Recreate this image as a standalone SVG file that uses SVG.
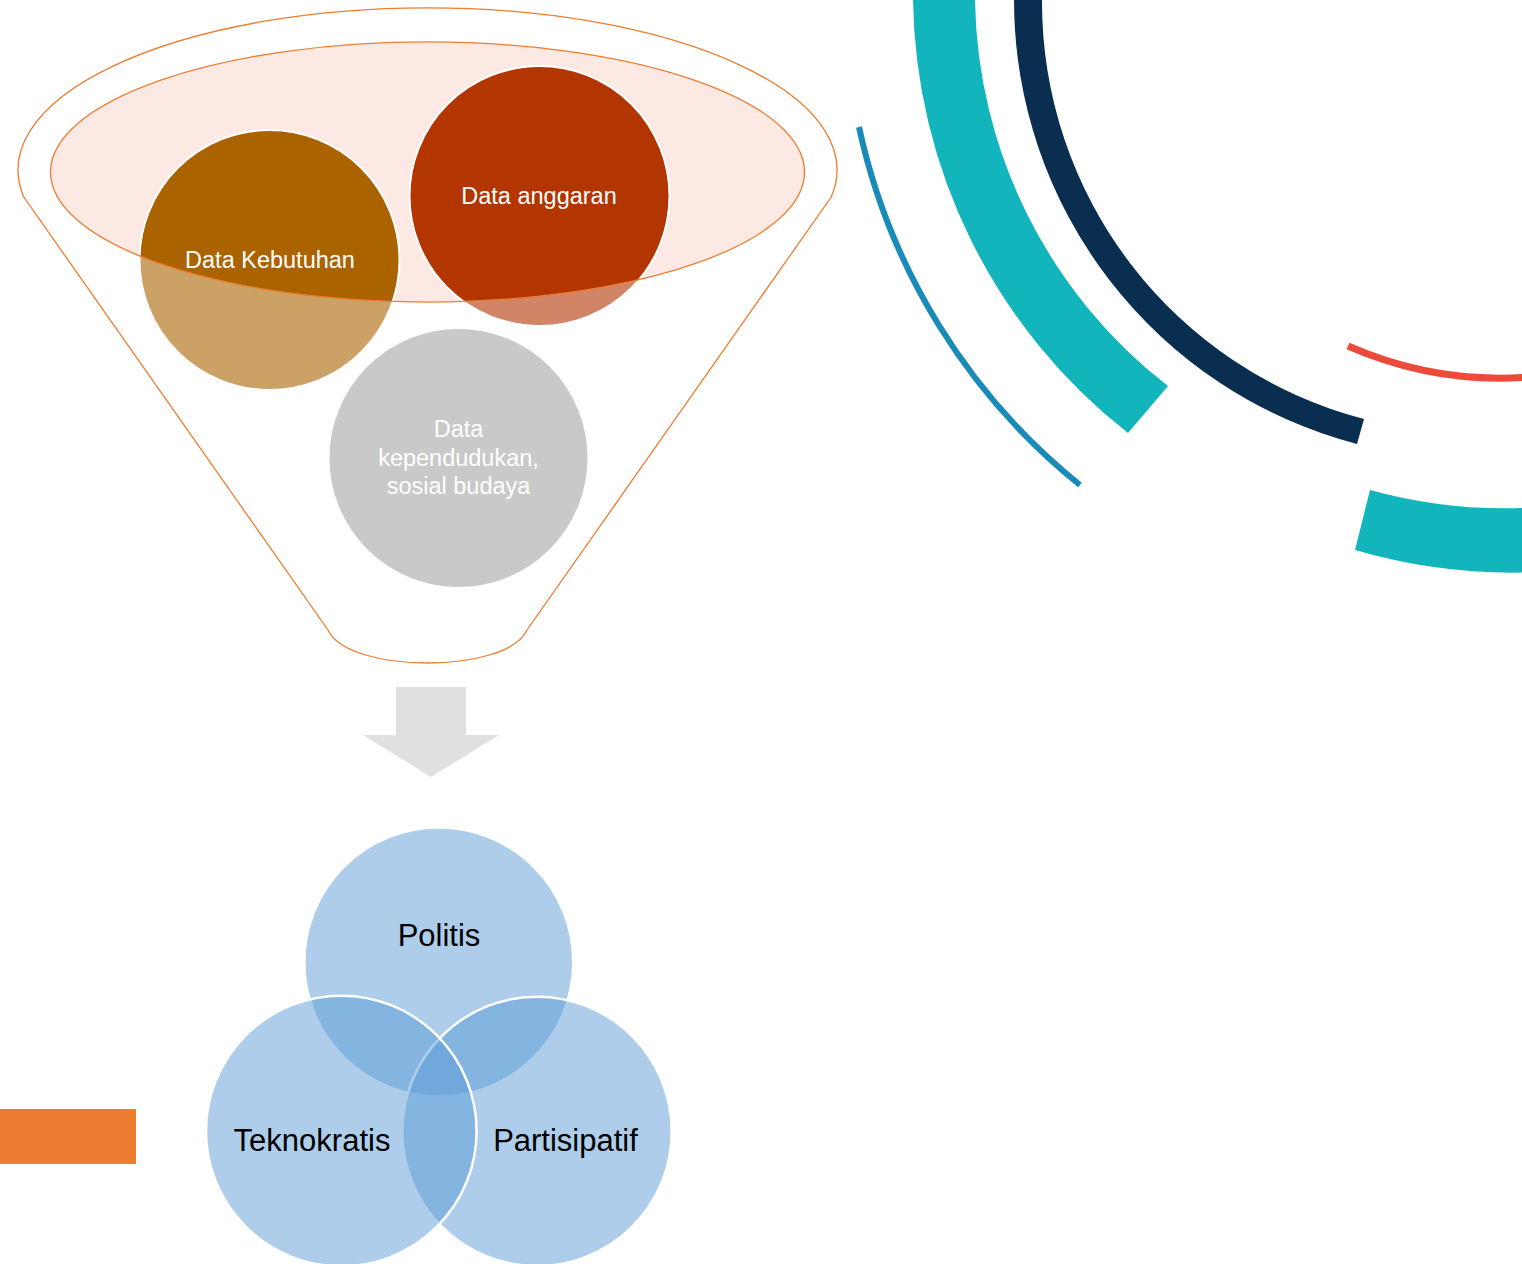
<svg xmlns="http://www.w3.org/2000/svg" width="1522" height="1264" viewBox="0 0 1522 1264">
<style>
.ft{font-family:"Liberation Sans",Arial,sans-serif;font-size:23.5px;fill:#ffffff;text-anchor:middle}
.vt{font-family:"Liberation Sans",Arial,sans-serif;font-size:31px;fill:#000000;text-anchor:middle}
.fc{stroke:#ffffff;stroke-width:2}
.vc{fill:#5B9BD5;fill-opacity:0.5;stroke:#ffffff;stroke-width:2.5}
.teal{fill:#13B5BD}
</style>
<rect width="1522" height="1264" fill="#ffffff"/>
<g id="decor">
<path class="teal" d="M913,0 A560,560 0 0 0 1128,433 L1168,386 A498,498 0 0 1 975,0 Z"/>
<path fill="#0A2E4F" d="M1014,0 A459,459 0 0 0 1357,444 L1364,419 A431,431 0 0 1 1042,0 Z"/>
<path fill="none" stroke="#1A8BB8" stroke-width="6" d="M859,127 A630,630 0 0 0 1080,485"/>
<path fill="none" stroke="#EC4B3B" stroke-width="7" d="M1348,346 A380,380 0 0 0 1530,377"/>
<path class="teal" d="M1355,550 A565,565 0 0 0 1540,572 L1540,507 A505,505 0 0 1 1370,490 Z"/>
<rect x="0" y="1109" width="136" height="55" fill="#ED7D31"/>
</g>
<g id="funnel-top">
<ellipse cx="427.5" cy="172" rx="377" ry="130" fill="#FCE9E4"/>
</g>
<g id="node-kebutuhan">
<circle class="fc" cx="269.5" cy="260" r="130" fill="#AB6300"/>
<text class="ft" x="270" y="268">Data Kebutuhan</text>
</g>
<g id="node-anggaran">
<circle class="fc" cx="539.5" cy="196" r="130" fill="#B33500"/>
<text class="ft" x="539" y="204">Data anggaran</text>
</g>
<g id="node-kependudukan">
<circle class="fc" cx="458.5" cy="458" r="130" fill="#A5A5A5"/>
<text class="ft" x="458.5" y="437">Data</text>
<text class="ft" x="458.5" y="465.5">kependudukan,</text>
<text class="ft" x="458.5" y="494">sosial budaya</text>
</g>
<g id="funnel">
<path fill="#ffffff" fill-opacity="0.4" fill-rule="evenodd" stroke="#ED7D31" stroke-width="1.3" d="M23.8,197 A409.5,162 0 1 1 831.2,197 L527,630 C507,674 348,674 328,630 Z M50.5,172 A377,130 0 1 0 804.5,172 A377,130 0 1 0 50.5,172 Z"/>
</g>
<g id="connectors">
<path fill="#E0E0E0" d="M396,687 H466 V735 H499 L431,777 L363,735 H396 Z"/>
</g>
<g id="node-politis">
<circle class="vc" cx="438.8" cy="962" r="134.5"/>
</g>
<g id="node-partisipatif">
<circle class="vc" cx="537" cy="1131.4" r="134.7"/>
</g>
<g id="node-teknokratis">
<circle class="vc" cx="341.3" cy="1131" r="135.3"/>
</g>
<g id="venn-labels">
<text class="vt" x="439" y="946">Politis</text>
<text class="vt" x="312" y="1151">Teknokratis</text>
<text class="vt" x="565.5" y="1151">Partisipatif</text>
</g>
</svg>
